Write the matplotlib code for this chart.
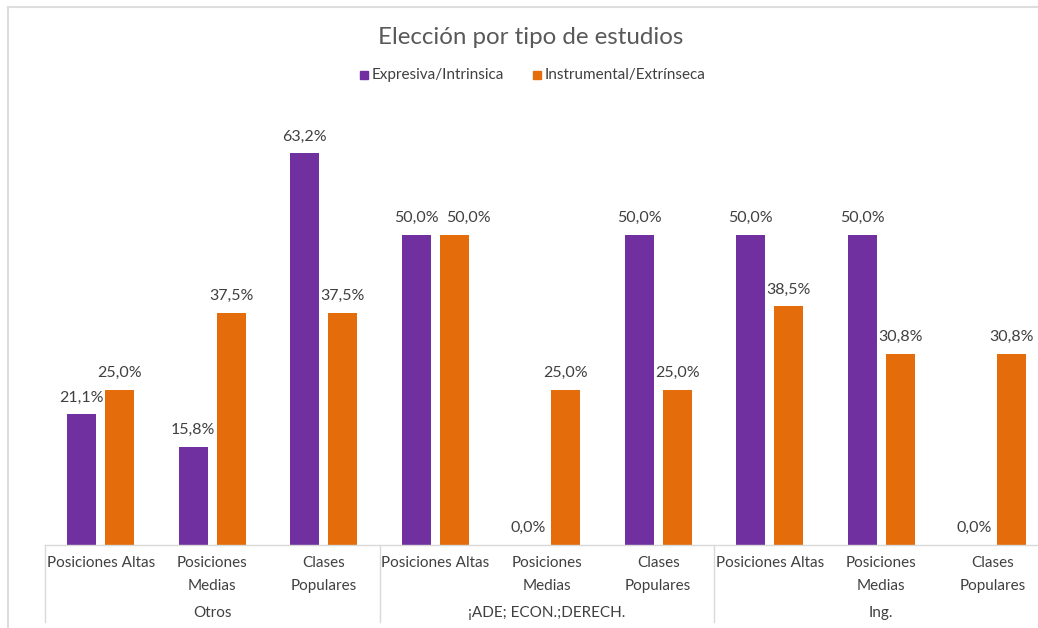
import matplotlib
matplotlib.use("Agg")
import matplotlib.pyplot as plt
from matplotlib.transforms import blended_transform_factory
from matplotlib.lines import Line2D
from matplotlib.patches import Rectangle

plt.rcParams['font.family'] = ['Lato', 'DejaVu Sans']

groups = ["Otros", "¡ADE; ECON.;DERECH.", "Ing."]
categories = ["Posiciones Altas", "Posiciones\nMedias", "Clases\nPopulares"] * 3
expresiva = [21.1, 15.8, 63.2, 50.0, 0.0, 50.0, 50.0, 50.0, 0.0]
instrumental = [25.0, 37.5, 37.5, 50.0, 25.0, 25.0, 38.5, 30.8, 30.8]
series_names = ["Expresiva/Intrinsica", "Instrumental/Extrínseca"]

PURPLE = "#7030A0"
ORANGE = "#E46C0A"
TEXT = "#404040"
GRID = "#D9D9D9"

W, H = 1038, 628
fig = plt.figure(figsize=(W / 100, H / 100), dpi=100)
fig.patch.set_facecolor("white")

# plot area in pixels
left_px, base_px, top_px, cat_px = 45, 545, 111, 111.5
n = len(categories)
ax = fig.add_axes([left_px / W, 1 - base_px / H, n * cat_px / W, (base_px - top_px) / H])
ax.set_xlim(-0.5, n - 0.5)
ax.set_ylim(0, 70)
ax.axis("off")

off, bw = 0.17, 0.26
xs = list(range(n))
ax.bar([x - off for x in xs], expresiva, width=bw, color=PURPLE)
ax.bar([x + off for x in xs], instrumental, width=bw, color=ORANGE)

def pct(v):
    return f"{v:.1f}%".replace(".", ",")

# nudge a label sideways where two equal-height labels would collide
nudge_right = {3: 10}

for x, v in zip(xs, expresiva):
    ax.annotate(pct(v), (x - off, v), xytext=(0, 7), textcoords="offset points",
                ha="center", va="bottom", fontsize=11.5, color=TEXT)
for i, (x, v) in enumerate(zip(xs, instrumental)):
    ax.annotate(pct(v), (x + off, v), xytext=(nudge_right.get(i, 0), 7),
                textcoords="offset points",
                ha="center", va="bottom", fontsize=11.5, color=TEXT)

# category axis
ax.axhline(0, color=GRID, lw=1, clip_on=False)
tr = blended_transform_factory(ax.transData, fig.transFigure)
for x, lab in zip(xs, categories):
    ax.text(x, 1 - 556 / H, lab, transform=tr, ha="center", va="top",
            fontsize=11, color=TEXT, linespacing=1.85)
for g, name in enumerate(groups):
    ax.text(3 * g + 1, 1 - 613 / H, name, transform=tr, ha="center", va="center",
            fontsize=11, color=TEXT)
for xb in [-0.5, 2.5, 5.5]:
    ax.add_line(Line2D([xb, xb], [1 - base_px / H, 1 - 622 / H], transform=tr,
                       color=GRID, lw=1, clip_on=False))

# title and legend
fig.text(531 / W, 1 - 37 / H, "Elección por tipo de estudios", ha="center", va="center",
         fontsize=17.4, color="#595959")
sq = 8
fig.patches.append(Rectangle((360 / W, 1 - 79 / H), sq / W, sq / H, transform=fig.transFigure,
                             color=PURPLE))
fig.text(372 / W, 1 - 75 / H, series_names[0], ha="left", va="center", fontsize=11, color=TEXT)
fig.patches.append(Rectangle((533 / W, 1 - 79 / H), sq / W, sq / H, transform=fig.transFigure,
                             color=ORANGE))
fig.text(545 / W, 1 - 75 / H, series_names[1], ha="left", va="center", fontsize=11, color=TEXT)

# chart frame
fig.add_artist(Line2D([8 / W, 8 / W], [0, 1 - 7 / H], transform=fig.transFigure, color="#DDDDDD", lw=1.5))
fig.add_artist(Line2D([8 / W, 1], [1 - 7 / H, 1 - 7 / H], transform=fig.transFigure, color="#DDDDDD", lw=1.5))

fig.savefig("out.png", dpi=100, facecolor="white")
